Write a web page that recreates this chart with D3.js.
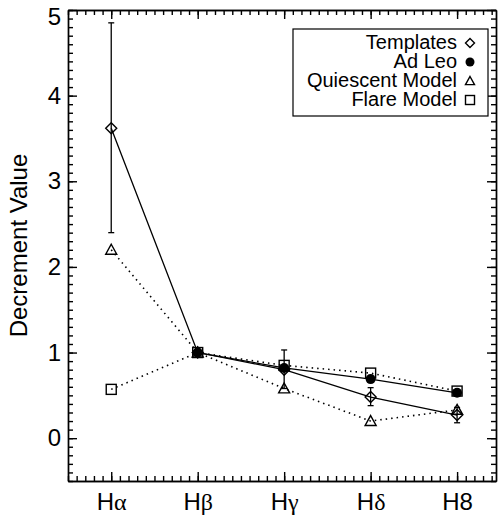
<!DOCTYPE html>
<html>
<head>
<meta charset="utf-8">
<script src="https://cdn.jsdelivr.net/npm/d3@7"></script>
<style>
    body { margin: 0; background: #fff; }
    svg { font-family: "Liberation Sans", Arial, Helvetica, sans-serif; }
    .axis path, .axis line { stroke: #000; stroke-width: 1.4; }
    .axis text { fill: #000; font-size: 24px; }
</style>
</head>
<body>
<div id="chart"></div>
<script>
// ── Balmer decrement plot ──

const lines = ['H\u03b1', 'H\u03b2', 'H\u03b3', 'H\u03b4', 'H8'];

const templates = [3.62, 1.0, 0.80, 0.48, 0.27];
const templatesLow = [2.40, 1.0, 0.58, 0.38, 0.18];
const templatesHigh = [4.85, 1.0, 1.03, 0.59, 0.36];
const adLeo = [null, 1.0, 0.82, 0.69, 0.53];
const quiescent = [2.20, 1.0, 0.58, 0.20, 0.33];
const flare = [0.57, 1.0, 0.85, 0.76, 0.55];

const yTicks = [0, 1, 2, 3, 4, 5];

const width = 500, height = 515;
const plotLeft = 68, plotRight = 496, plotTop = 10, plotBottom = 481;

const svg = d3.select('#chart').append('svg')
    .attr('width', width)
    .attr('height', height);

const x = d3.scaleLinear().domain([-0.5, 4.45]).range([plotLeft, plotRight]);
const y = d3.scaleLinear().domain([-0.5, 5]).range([plotBottom, plotTop]);

const xMinor = d3.range(-5, 45).map(d => d / 10);
const yMinor = d3.range(-5, 51).map(d => d / 10);

// Axes: minor ticks first, then major ones, all pointing inward
function addAxis(axis, tx, ty) {
    return svg.append('g')
        .attr('class', 'axis')
        .attr('transform', `translate(${tx},${ty})`)
        .call(axis);
}

addAxis(d3.axisBottom(x).tickValues(xMinor).tickSizeInner(-5).tickSizeOuter(0).tickFormat(''), 0, plotBottom);
addAxis(d3.axisTop(x).tickValues(xMinor).tickSizeInner(-5).tickSizeOuter(0).tickFormat(''), 0, plotTop);
addAxis(d3.axisLeft(y).tickValues(yMinor).tickSizeInner(-5).tickSizeOuter(0).tickFormat(''), plotLeft, 0);
addAxis(d3.axisRight(y).tickValues(yMinor).tickSizeInner(-5).tickSizeOuter(0).tickFormat(''), plotRight, 0);

const xAxis = addAxis(d3.axisBottom(x).tickValues(d3.range(lines.length)).tickSizeInner(-9).tickSizeOuter(0)
    .tickPadding(12).tickFormat(i => lines[i]), 0, plotBottom);
addAxis(d3.axisTop(x).tickValues(d3.range(lines.length)).tickSizeInner(-9).tickSizeOuter(0).tickFormat(''), 0, plotTop);
const yAxis = addAxis(d3.axisLeft(y).tickValues(yTicks).tickSizeInner(-9).tickSizeOuter(0)
    .tickPadding(7).tickFormat(d3.format('d')), plotLeft, 0);
addAxis(d3.axisRight(y).tickValues(yTicks).tickSizeInner(-9).tickSizeOuter(0).tickFormat(''), plotRight, 0);

// greek letters in a symbol-like serif face
xAxis.selectAll('.tick text').each(function(i) {
    const rest = lines[i].slice(1);
    if (!/[\u0370-\u03ff]/.test(rest)) return;
    const t = d3.select(this).text('');
    t.append('tspan').text(lines[i].slice(0, 1));
    t.append('tspan').style('font-family', '"Liberation Serif", serif').text(rest);
});

// top label is nudged down so it stays inside the page
yAxis.selectAll('.tick').filter(d => d === 5).select('text').attr('y', 7);

svg.append('text')
    .attr('transform', `translate(27,${(plotTop + plotBottom) / 2}) rotate(-90)`)
    .attr('text-anchor', 'middle')
    .style('font-size', '24px')
    .text('Decrement Value');

// Lines
const lineGen = d3.line()
    .defined(d => d != null)
    .x((d, i) => x(i))
    .y(d => y(d));

const series = [
    { values: templates, dash: null },
    { values: adLeo, dash: null },
    { values: quiescent, dash: '1.5,4' },
    { values: flare, dash: '1.5,4' },
];

const plot = svg.append('g');

series.forEach(s => {
    plot.append('path')
        .datum(s.values)
        .attr('d', lineGen)
        .attr('fill', 'none')
        .attr('stroke', '#000')
        .attr('stroke-width', s.dash ? 1.6 : 1.3)
        .attr('stroke-dasharray', s.dash);
});

// Error bars on templates
const errIdx = d3.range(templates.length).filter(i => templatesHigh[i] > templatesLow[i]);
const err = plot.append('g').attr('stroke', '#000').attr('stroke-width', 1.3);
err.selectAll('line.bar').data(errIdx).join('line').attr('class', 'bar')
    .attr('x1', i => x(i)).attr('x2', i => x(i))
    .attr('y1', i => y(templatesLow[i])).attr('y2', i => y(templatesHigh[i]));
err.selectAll('line.lo').data(errIdx).join('line').attr('class', 'lo')
    .attr('x1', i => x(i) - 3).attr('x2', i => x(i) + 3)
    .attr('y1', i => y(templatesLow[i])).attr('y2', i => y(templatesLow[i]));
err.selectAll('line.hi').data(errIdx).join('line').attr('class', 'hi')
    .attr('x1', i => x(i) - 3).attr('x2', i => x(i) + 3)
    .attr('y1', i => y(templatesHigh[i])).attr('y2', i => y(templatesHigh[i]));

// Markers
function marker(g, type, cx, cy, s) {
    if (type === 'diamond') {
        g.append('path')
            .attr('d', `M${cx},${cy - s}L${cx + s},${cy}L${cx},${cy + s}L${cx - s},${cy}Z`)
            .attr('fill', 'none').attr('stroke', '#000').attr('stroke-width', 1.4);
    } else if (type === 'circle') {
        g.append('circle').attr('cx', cx).attr('cy', cy).attr('r', s).attr('fill', '#000');
    } else if (type === 'triangle') {
        g.append('path')
            .attr('d', `M${cx},${cy - s}L${cx + s},${cy + s * 0.8}L${cx - s},${cy + s * 0.8}Z`)
            .attr('fill', 'none').attr('stroke', '#000').attr('stroke-width', 1.4);
    } else {
        g.append('rect').attr('x', cx - s).attr('y', cy - s).attr('width', 2 * s).attr('height', 2 * s)
            .attr('fill', 'none').attr('stroke', '#000').attr('stroke-width', 1.4);
    }
}

const markerSets = [
    { values: quiescent, type: 'triangle', size: 5.5 },
    { values: flare, type: 'square', size: 5 },
    { values: templates, type: 'diamond', size: 5.5 },
    { values: adLeo, type: 'circle', size: 5 },
];

markerSets.forEach(m => {
    m.values.forEach((v, i) => {
        if (v != null) marker(plot, m.type, x(i), y(v), m.size);
    });
});

// Legend
const legendNames = ['Templates', 'Ad Leo', 'Quiescent Model', 'Flare Model'];
const legendTypes = ['diamond', 'circle', 'triangle', 'square'];

const legend = svg.append('g');
legend.append('rect')
    .attr('x', 293).attr('y', 29).attr('width', 195).attr('height', 87)
    .attr('fill', '#fff').attr('stroke', '#000').attr('stroke-width', 1.2);

legendNames.forEach((name, i) => {
    const cy = 42 + i * 19;
    legend.append('text')
        .attr('x', 457).attr('y', cy)
        .attr('dy', '0.36em')
        .attr('text-anchor', 'end')
        .style('font-size', '20px')
        .text(name);
    marker(legend, legendTypes[i], 470, cy + 1, 4.5);
});
</script>
</body>
</html>
